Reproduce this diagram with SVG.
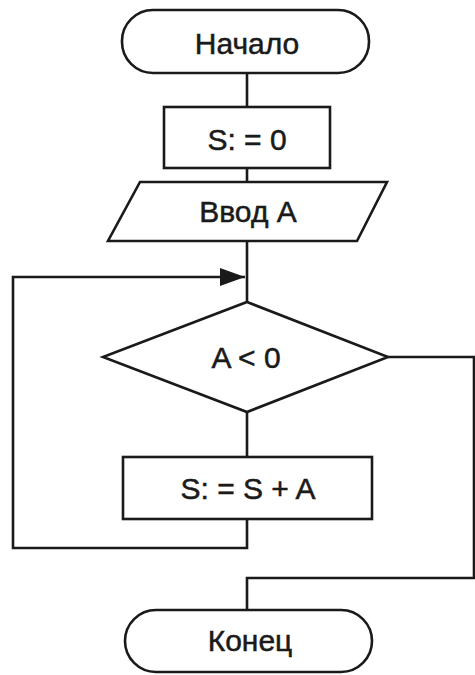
<svg xmlns="http://www.w3.org/2000/svg" width="475" height="675" viewBox="0 0 475 675">
<style>
.s{fill:#fff;stroke:#1a1a1a;stroke-width:2.6}
.c{fill:none;stroke:#1a1a1a;stroke-width:2.6}
.t{font-family:"Liberation Sans",Arial,sans-serif;font-size:30px;fill:#1a1a1a;stroke:#1a1a1a;stroke-width:0.5;text-anchor:middle}
</style>
<defs>
<marker id="ah" markerWidth="25" markerHeight="18" refX="25" refY="9" orient="auto" markerUnits="userSpaceOnUse">
<path d="M0,0 L25,9 L0,18 Z" fill="#1a1a1a"/>
</marker>
</defs>
<rect width="475" height="675" fill="#fff"/>
<g id="connectors">
<line class="c" x1="247" y1="73" x2="247" y2="108"/>
<line class="c" x1="247" y1="168" x2="247" y2="182"/>
<line class="c" x1="247" y1="241" x2="247" y2="302"/>
<line class="c" x1="247" y1="412" x2="247" y2="457"/>
<polyline class="c" points="247,519 247,548 13,548 13,277 245,277" marker-end="url(#ah)"/>
<polyline class="c" points="388,357 474,357 474,578 247,578 247,610"/>
</g>
<g id="start">
<rect class="s" x="122" y="10" width="247" height="63" rx="31" ry="31"/>
<text class="t" x="247" y="54">Начало</text>
</g>
<g id="init">
<rect class="s" x="164" y="107" width="166" height="61"/>
<text class="t" x="247" y="150">S: = 0</text>
</g>
<g id="input">
<polygon class="s" points="140,182 387,182 357,241 108,241"/>
<text class="t" x="248" y="222">Ввод А</text>
</g>
<g id="cond">
<polygon class="s" points="247,302 388,357 247,412 103,357"/>
<text class="t" x="246" y="368">A &lt; 0</text>
</g>
<g id="sum">
<rect class="s" x="123" y="457" width="249" height="62"/>
<text class="t" x="248" y="499">S: = S + A</text>
</g>
<g id="end">
<rect class="s" x="125" y="610" width="247" height="62" rx="31" ry="31"/>
<text class="t" x="250" y="651">Конец</text>
</g>
</svg>
